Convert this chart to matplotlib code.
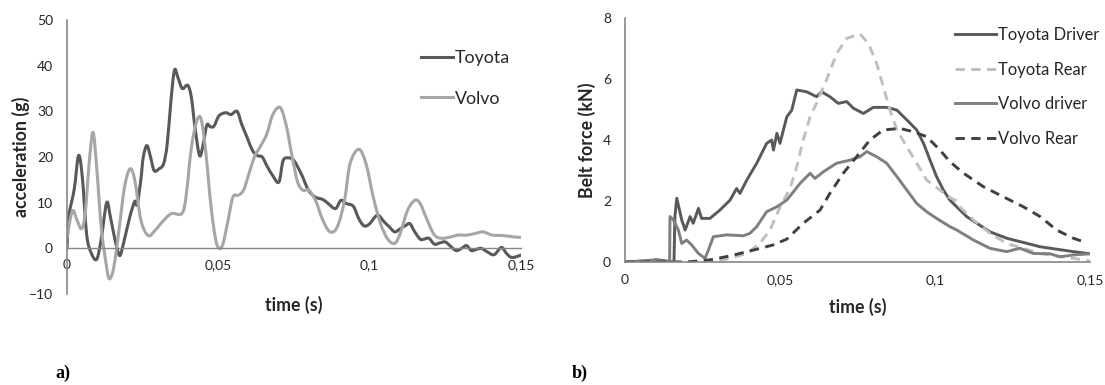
import numpy as np
import matplotlib
matplotlib.use("Agg")
import matplotlib.pyplot as plt
from matplotlib.ticker import FuncFormatter
from matplotlib.path import Path
from matplotlib.patches import PathPatch
from matplotlib.lines import Line2D

plt.rcParams['font.family'] = ['Lato', 'DejaVu Sans']

# ---------------- data: panel a) acceleration ----------------
toyota_t = [0.0, 0.0006, 0.0024, 0.0038, 0.005, 0.0065, 0.008, 0.0098, 0.0113, 0.0131, 0.0143,
            0.0155, 0.0167, 0.0176, 0.019, 0.0208, 0.0224, 0.0232, 0.0244, 0.0252, 0.0264, 0.0276,
            0.0288, 0.0304, 0.0319, 0.0331, 0.0343, 0.0355, 0.0367, 0.0381, 0.0399, 0.0411, 0.0423,
            0.0438, 0.045, 0.0462, 0.0474, 0.0486, 0.0502, 0.0524, 0.0542, 0.0562, 0.0577, 0.0595,
            0.0613, 0.0629, 0.0645, 0.0661, 0.0679, 0.07, 0.0714, 0.0732, 0.075, 0.0774, 0.0798,
            0.0821, 0.0845, 0.0863, 0.0887, 0.0905, 0.0923, 0.0946, 0.0964, 0.0982, 0.1, 0.1018,
            0.1030, 0.1048, 0.1065, 0.1083, 0.1101, 0.1119, 0.1133, 0.1149, 0.1167, 0.1179, 0.1196,
            0.1214, 0.1232, 0.125, 0.1268, 0.1286, 0.1304, 0.132, 0.1336, 0.1354, 0.1369, 0.1387,
            0.1411, 0.1435, 0.1452, 0.147, 0.15]
toyota_g = [0.0, 7.0, 13.0, 20.3, 16.0, 3.0, -1.0, -2.4, 2.0, 10.0, 7.0,
            3.0, -0.4, -1.5, 2.0, 7.0, 10.3, 9.6, 15.0, 20.0, 22.5, 20.0,
            17.0, 17.4, 18.5, 22.8, 32.0, 39.0, 37.3, 35.0, 35.7, 33.0, 26.4,
            20.3, 22.8, 27.0, 26.6, 26.8, 29.0, 29.7, 29.3, 30.0, 27.2, 24.3,
            21.4, 20.3, 20.0, 18.0, 16.0, 14.5, 19.2, 19.8, 19.2, 16.3, 12.7,
            11.2, 10.7, 9.8, 8.7, 10.5, 9.8, 9.2, 6.5, 4.9, 5.4, 6.9,
            7.2, 5.8, 4.7, 3.6, 4.3, 5.0, 5.4, 3.6, 2.0, 2.0, 2.2,
            0.9, 1.2, 1.4, 0.4, -0.5, 0.0, 0.6, -0.5, -0.2, 0.0, -0.7,
            -1.4, 0.2, -1.1, -2.0, -1.5]

volvo_t = [0.0, 0.001, 0.002, 0.0033, 0.0048, 0.006, 0.0074, 0.0086, 0.0098, 0.0113, 0.0129,
           0.014, 0.0155, 0.0173, 0.019, 0.0208, 0.0224, 0.0244, 0.0268, 0.0292, 0.0315, 0.0345,
           0.0379, 0.0393, 0.0411, 0.0429, 0.0443, 0.0458, 0.0476, 0.0494, 0.0512, 0.053, 0.0548,
           0.0565, 0.0583, 0.0601, 0.0619, 0.0637, 0.066, 0.068, 0.0705, 0.0726, 0.0744, 0.0762,
           0.078, 0.0798, 0.0821, 0.0845, 0.0869, 0.0893, 0.0917, 0.0935, 0.0964, 0.0988, 0.1012,
           0.1036, 0.106, 0.1083, 0.1101, 0.1125, 0.1149, 0.1167, 0.119, 0.1214, 0.1238, 0.1268,
           0.1292, 0.1321, 0.1351, 0.1375, 0.1405, 0.1440, 0.1476, 0.15]
volvo_g = [2.2, 6.2, 8.3, 6.2, 4.3, 7.6, 19.2, 25.4, 17.8, 4.7, -3.3,
           -6.7, -4.0, 4.7, 13.4, 17.4, 14.9, 6.2, 2.8, 4.0, 5.8, 7.6,
           7.6, 11.2, 22.1, 27.9, 28.3, 21.4, 9.1, 1.1, 0.4, 5.4, 11.2,
           11.6, 12.7, 16.3, 20.0, 22.1, 25.0, 29.3, 30.8, 26.4, 20.0, 14.5,
           12.7, 12.8, 10.5, 6.2, 3.6, 4.7, 10.5, 18.5, 21.7, 18.5, 11.2,
           5.4, 2.0, 1.1, 3.3, 8.3, 10.5, 9.8, 6.2, 2.9, 2.2, 2.5,
           2.9, 2.9, 3.3, 3.6, 2.9, 2.8, 2.5, 2.4]

# ---------------- data: panel b) belt force ----------------
td_t = [0.0, 0.0087, 0.0098, 0.012, 0.0158, 0.0161, 0.0167, 0.0183, 0.0194, 0.021, 0.022,
        0.0237, 0.0247, 0.0274, 0.0306, 0.0339, 0.036, 0.0371, 0.0393, 0.0425, 0.0457, 0.0473,
        0.0479, 0.049, 0.05, 0.0511, 0.0522, 0.0538, 0.0554, 0.0586, 0.0618, 0.0634, 0.0661,
        0.0688, 0.0715, 0.0737, 0.0769, 0.0801, 0.0844, 0.0877, 0.0909, 0.0941, 0.0963, 0.0984,
        0.1005, 0.1027, 0.1048, 0.1102, 0.1177, 0.1231, 0.1339, 0.1446, 0.15]
td_f = [0.0, 0.0, 0.08, 0.05, 0.0, 1.49, 2.09, 1.38, 1.05, 1.49, 1.27,
        1.76, 1.43, 1.43, 1.7, 2.03, 2.41, 2.25, 2.69, 3.24, 3.89, 4.0,
        3.67, 4.22, 3.89, 4.33, 4.76, 4.98, 5.64, 5.58, 5.42, 5.58, 5.42,
        5.2, 5.26, 5.04, 4.87, 5.07, 5.07, 4.98, 4.66, 4.33, 3.89, 3.34,
        2.8, 2.36, 2.03, 1.49, 0.99, 0.78, 0.5, 0.34, 0.27]

tr_t = [0.0, 0.028, 0.0339, 0.0393, 0.0435, 0.0468, 0.05, 0.0532, 0.0554, 0.0575, 0.0597,
        0.0618, 0.065, 0.0683, 0.0715, 0.0758, 0.0785, 0.0812, 0.0833, 0.0855, 0.0877, 0.0909,
        0.0941, 0.0973, 0.1016, 0.1043, 0.107, 0.1080, 0.1124, 0.1177, 0.1231, 0.1339, 0.1446,
        0.15]
tr_f = [0.0, 0.0, 0.12, 0.28, 0.61, 1.05, 1.8, 2.4, 3.12, 4.0, 4.76,
        5.21, 5.97, 6.84, 7.33, 7.48, 7.17, 6.51, 5.75, 4.98, 4.33, 3.78,
        3.24, 2.69, 2.36, 2.14, 2.0, 1.81, 1.38, 0.94, 0.61, 0.28, 0.12,
        0.03]

vd_t = [0.0, 0.0098, 0.0144, 0.0145, 0.0156, 0.0172, 0.0183, 0.0199, 0.0215, 0.0237, 0.0258,
        0.0269, 0.0285, 0.0328, 0.0382, 0.0403, 0.0425, 0.0457, 0.049, 0.0522, 0.0565, 0.0597,
        0.0613, 0.064, 0.0683, 0.0726, 0.0758, 0.078, 0.0812, 0.0844, 0.0877, 0.0909, 0.0941,
        0.0973, 0.1005, 0.1048, 0.107, 0.1124, 0.1177, 0.1231, 0.1274, 0.1317, 0.1371, 0.1403,
        0.1446, 0.15]
vd_f = [0.0, 0.07, 0.0, 1.49, 1.38, 1.05, 0.61, 0.72, 0.56, 0.28, 0.12,
        0.39, 0.83, 0.89, 0.86, 0.94, 1.16, 1.65, 1.81, 2.03, 2.58, 2.91,
        2.74, 2.96, 3.24, 3.34, 3.45, 3.62, 3.45, 3.24, 2.8, 2.36, 1.92,
        1.65, 1.43, 1.16, 1.05, 0.72, 0.45, 0.34, 0.45, 0.28, 0.27, 0.17,
        0.23, 0.27]

vr_t = [0.0, 0.02, 0.0274, 0.0339, 0.0414, 0.0478, 0.0522, 0.0575, 0.0629, 0.0661, 0.0704,
        0.0747, 0.079, 0.0833, 0.0887, 0.093, 0.0973, 0.1016, 0.1048, 0.1092, 0.1156, 0.122,
        0.1285, 0.1339, 0.1392, 0.1446, 0.1478]
vr_f = [0.0, 0.0, 0.07, 0.2, 0.39, 0.56, 0.75, 1.27, 1.7, 2.25, 2.91,
        3.45, 4.0, 4.33, 4.38, 4.27, 4.11, 3.67, 3.29, 2.91, 2.47, 2.14,
        1.81, 1.49, 1.05, 0.78, 0.67]

x_ticks = [0, 0.05, 0.1, 0.15]
acc_ticks = [-10, 0, 10, 20, 30, 40, 50]
force_ticks = [0, 2, 4, 6, 8]


def comma_fmt(v, pos):
    return ('%g' % round(v, 4)).replace('.', ',')


def smooth_path(xs, ys):
    """Excel-style smoothed line: cubic Bezier through each data point."""
    p = np.column_stack([xs, ys]).astype(float)
    n = len(p)
    verts = [p[0]]
    codes = [Path.MOVETO]
    for i in range(n - 1):
        p0 = p[i - 1] if i > 0 else p[i]
        p1 = p[i]
        p2 = p[i + 1]
        p3 = p[i + 2] if i + 2 < n else p[i + 1]
        c1 = p1 + (p2 - p0) / 6.0
        c2 = p2 - (p3 - p1) / 6.0
        verts += [c1, c2, p2]
        codes += [Path.CURVE4] * 3
    return Path(verts, codes)


AXC = '#868686'
TXT = '#262626'
C_TOY = '#595959'
C_VOL = '#A6A6A6'
TICK_FS = 10
TITLE_FS = 12.8
LEG_FS_A = 12.8
LEG_FS_B = 11.9

fig = plt.figure(figsize=(11.05, 3.85), dpi=100)

# ---------------- panel a ----------------
ax1 = fig.add_axes([67 / 1105, 1 - 294 / 385, 454 / 1105, 274 / 385])
for xs, ys, col in [(toyota_t, toyota_g, C_TOY), (volvo_t, volvo_g, C_VOL)]:
    ax1.add_patch(PathPatch(smooth_path(xs, ys), fill=False, edgecolor=col, lw=2.2,
                            joinstyle='round', capstyle='round'))
ax1.set_xlim(0, 0.15)
ax1.set_ylim(-10, 50)
ax1.set_xticks(x_ticks)
ax1.set_yticks(acc_ticks)
ax1.xaxis.set_major_formatter(FuncFormatter(comma_fmt))
for s in ['top', 'right']:
    ax1.spines[s].set_visible(False)
ax1.spines['left'].set_color(AXC)
ax1.spines['left'].set_linewidth(1.2)
ax1.spines['bottom'].set_position(('data', 0))
ax1.spines['bottom'].set_color(AXC)
ax1.spines['bottom'].set_linewidth(1.0)
ax1.tick_params(length=0, labelsize=TICK_FS, colors=TXT)
ax1.tick_params(axis='y', pad=10)
ax1.tick_params(axis='x', pad=8)
ax1.set_xlabel('time (s)', fontsize=TITLE_FS, fontweight='bold', color=TXT)
ax1.xaxis.label.set_va('center')
ax1.xaxis.set_label_coords(0.5, -(305 - 294) / 274)
ax1.set_ylabel('acceleration (g)', fontsize=TITLE_FS, fontweight='bold', color=TXT)
ax1.yaxis.label.set_va('center')
ax1.yaxis.set_label_coords(-(67 - 21) / 454, 0.5)
h1 = [Line2D([], [], color=C_TOY, lw=2.2), Line2D([], [], color=C_VOL, lw=2.2)]
leg1 = ax1.legend(h1, ['Toyota', 'Volvo'], loc='upper left',
                  bbox_to_anchor=((421 - 67) / 454, (294 - 50) / 274), frameon=False,
                  fontsize=LEG_FS_A, handlelength=1.8, handletextpad=0.1, labelspacing=1.39,
                  borderaxespad=0, borderpad=0)
for t in leg1.get_texts():
    t.set_color(TXT)

# ---------------- panel b ----------------
ax2 = fig.add_axes([625 / 1105, 1 - 262 / 385, 465 / 1105, 244 / 385])
dash = (0, (3.2, 2.2))
ax2.plot(td_t, td_f, color='#595959', lw=2.1, label='Toyota Driver')
ax2.plot(tr_t, tr_f, color='#BFBFBF', lw=2.1, ls=dash, label='Toyota Rear')
ax2.plot(vd_t, vd_f, color='#7F7F7F', lw=2.1, label='Volvo driver')
ax2.plot(vr_t, vr_f, color='#404040', lw=2.1, ls=dash, label='Volvo Rear')
ax2.set_xlim(0, 0.15)
ax2.set_ylim(0, 8)
ax2.set_xticks(x_ticks)
ax2.set_yticks(force_ticks)
ax2.xaxis.set_major_formatter(FuncFormatter(comma_fmt))
for s in ['top', 'right']:
    ax2.spines[s].set_visible(False)
for s in ['left', 'bottom']:
    ax2.spines[s].set_color(AXC)
    ax2.spines[s].set_linewidth(1.2)
ax2.tick_params(length=0, labelsize=TICK_FS, colors=TXT)
ax2.tick_params(axis='y', pad=10)
ax2.tick_params(axis='x', pad=9)
ax2.set_xlabel('time (s)', fontsize=TITLE_FS, fontweight='bold', color=TXT)
ax2.xaxis.label.set_va('center')
ax2.xaxis.set_label_coords(0.5, -(307 - 262) / 244)
ax2.set_ylabel('Belt force (kN)', fontsize=TITLE_FS, fontweight='bold', color=TXT)
ax2.yaxis.label.set_va('center')
ax2.yaxis.set_label_coords(-(625 - 587) / 465, 0.5)
leg2 = ax2.legend(loc='upper left', bbox_to_anchor=((955 - 625) / 465, (262 - 27) / 244),
                  frameon=False, fontsize=LEG_FS_B, handlelength=2.5, handletextpad=0.1,
                  labelspacing=1.12, borderaxespad=0, borderpad=0)
for t in leg2.get_texts():
    t.set_color(TXT)

lab_font = ['Liberation Serif', 'DejaVu Serif']
fig.text(55 / 1105, 1 - 373 / 385, 'a)', fontsize=13, fontweight='bold',
         family=lab_font, va='center', ha='left', color='#000000')
fig.text(572 / 1105, 1 - 373 / 385, 'b)', fontsize=13, fontweight='bold',
         family=lab_font, va='center', ha='left', color='#000000')

fig.savefig('out.png', dpi=100)
